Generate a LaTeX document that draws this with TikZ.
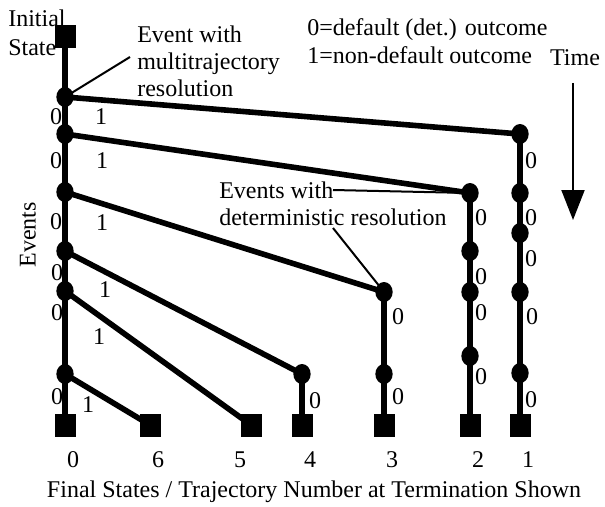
\documentclass[tikz,border=0pt]{standalone}
\usepackage{fontspec}
\setmainfont{Liberation Serif}
\usetikzlibrary{shapes.geometric,arrows.meta,backgrounds}
\begin{document}
\begin{tikzpicture}[x=0.75pt,y=-0.75pt,
  event/.style={ellipse,fill=black,inner sep=0pt,minimum width=13pt,minimum height=15pt},
  state/.style={rectangle,fill=black,inner sep=0pt,minimum width=15.75pt,minimum height=17.25pt},
  trajline/.style={line width=4.2pt},
  callout/.style={line width=1.5pt},
  lbl/.style={font=\fontsize{18}{20.6}\selectfont,inner sep=0pt},
]
\useasboundingbox (0,0) rectangle (605,506);

% main trunk: initial state, multitrajectory events, final state 0
\node[state] (init) at (65,37) {};
\node[event] (e1) at (65,97) {};
\node[event] (e2) at (65,134) {};
\node[event] (e3) at (65,192) {};
\node[event] (e4) at (65,251) {};
\node[event] (e5) at (65,291) {};
\node[event] (e6) at (65,374) {};
\node[state] (f0) at (65,425) {};

% trajectory 1
\node[event] (t1a) at (520,134) {};
\node[event] (t1b) at (520,193) {};
\node[event] (t1c) at (520,233) {};
\node[event] (t1d) at (520,292) {};
\node[event] (t1e) at (520,373) {};
\node[state] (f1) at (520,425) {};

% trajectory 2
\node[event] (t2a) at (470,193) {};
\node[event] (t2b) at (470,251) {};
\node[event] (t2c) at (470,292) {};
\node[event] (t2d) at (470,356) {};
\node[state] (f2) at (470,425) {};

% trajectory 3
\node[event] (t3a) at (384,292) {};
\node[event] (t3b) at (384,374) {};
\node[state] (f3) at (384,425) {};

% trajectory 4
\node[event] (t4a) at (302,374) {};
\node[state] (f4) at (302,425) {};

% trajectories 5 and 6
\node[state] (f5) at (251,425) {};
\node[state] (f6) at (150,425) {};

% callout anchors
\coordinate (cm) at (130,57);
\coordinate (cd1) at (333,190);
\coordinate (cd2) at (333,228);
\coordinate (tt) at (573,83);
\coordinate (tb) at (573,220);

\begin{pgfonlayer}{background}
  \draw[trajline] (init.center) -- (f0.center);
  \draw[trajline] (t1a.center) -- (f1.center);
  \draw[trajline] (t2a.center) -- (f2.center);
  \draw[trajline] (t3a.center) -- (f3.center);
  \draw[trajline] (t4a.center) -- (f4.center);
  \draw[trajline] (e1.center) -- (t1a.center);
  \draw[trajline] (e2.center) -- (t2a.center);
  \draw[trajline] (e3.center) -- (t3a.center);
  \draw[trajline] (e4.center) -- (t4a.center);
  \draw[trajline] (e5.center) -- (f5.center);
  \draw[trajline] (e6.center) -- (f6.center);
  \draw[callout] (e1.center) -- (cm);
  \draw[callout] (cd1) -- (t2a.center);
  \draw[callout] (cd2) -- (t3a.center);
\end{pgfonlayer}

% time arrow
\draw[callout,-{Triangle[width=17.25pt,length=22.5pt]}] (tt) -- (tb);

% outcome labels on the trunk
\foreach \x/\y/\t [count=\i] in {56/117/0,101/117/1,56/161/0,102/161/1,56/222/0,102/223/1,
  57/273/0,105/290/1,57/313/0,99/337/1,57/397/0,88/405/1}
  \node[lbl] (tr\i) at (\x,\y) {\t};

% outcome labels on the trajectories
\foreach \x/\y [count=\i] in {531/161,531/218,531/259,532/317,531/400,
  481/218,481/277,481/313,481/377,398/317,398/397,315/401}
  \node[lbl] (tz\i) at (\x,\y) {0};

% final state numbers
\foreach \x/\t in {73/0,158/6,240/5,310/4,392/3,478/2,528/1}
  \node[lbl] (n\t) at (\x,460) {\t};

% text
\node[lbl,anchor=west] (ini1) at (8,18) {Initial};
\node[lbl,anchor=west] (ini2) at (8,48) {State};
\node[lbl,align=left,anchor=west,font=\fontsize{18}{20.1}\selectfont] (multi) at (137,61)
  {Event with\\multitrajectory\\resolution};
\node[lbl,align=left,anchor=west,font=\fontsize{18}{20}\selectfont] (det) at (219,204)
  {Events with\\deterministic resolution};
\node[lbl,align=left,anchor=west,font=\fontsize{18}{21}\selectfont] (legend) at (307,41)
  {0=default (det.) outcome\\1=non-default outcome};
\node[lbl] (time) at (575,58) {Time};
\node[lbl,rotate=90] (events) at (28,235) {Events};
\node[lbl] (final) at (314,492) {Final States / Trajectory Number at Termination Shown};
\end{tikzpicture}
\end{document}
